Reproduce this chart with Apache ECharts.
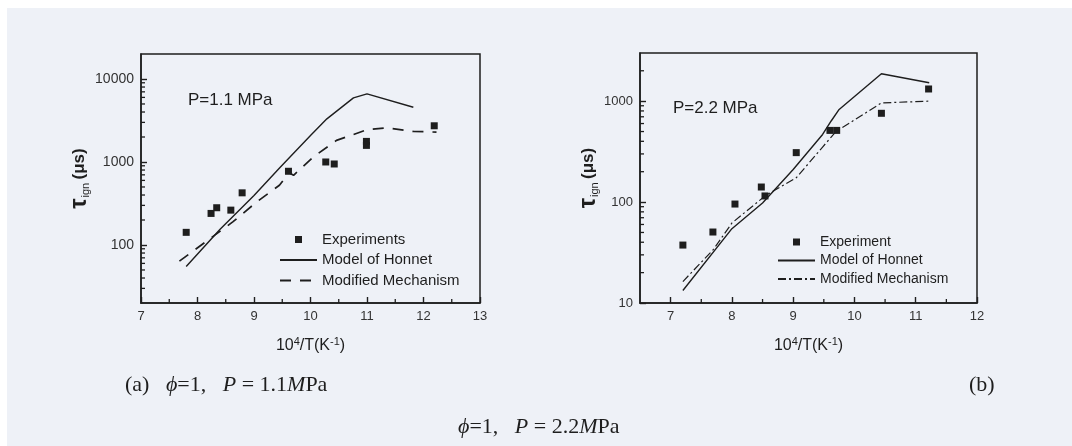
<!DOCTYPE html>
<html lang="en">
<head>
  <meta charset="UTF-8">
  <title>Ignition delay time vs 10^4/T</title>
  <script src="https://cdn.jsdelivr.net/npm/echarts@6/dist/echarts.min.js"></script>
  <style>
    html, body { margin: 0; padding: 0; background: #ffffff; }
    #paper { position: absolute; left: 7px; top: 8px; right: 0; bottom: 0; background: #eef1f7; }
    #main { position: absolute; left: 0; top: 0; width: 1072px; height: 446px; }
  </style>
</head>
<body>
  <div id="paper"></div>
  <div id="main"></div>

  <script>
    // (a) P = 1.1 MPa
    const expA_x = [7.80, 8.24, 8.34, 8.59, 8.79, 9.61, 10.27, 10.42, 10.99, 10.99, 12.19];
    const expA_y = [142, 240, 281, 263, 425, 773, 1000, 946, 1770, 1585, 2730];
    const honA_x = [7.80, 8.40, 9.00, 9.46, 10.00, 10.29, 10.76, 11.00, 11.82];
    const honA_y = [55, 155, 394, 860, 2090, 3310, 5920, 6610, 4570];
    const modA_x = [7.68, 8.27, 8.63, 9.05, 9.45, 9.62, 9.70, 10.05, 10.46, 11.00, 11.35, 11.82, 12.23];
    const modA_y = [64, 126, 191, 331, 525, 740, 690, 1150, 1820, 2445, 2580, 2335, 2290];

    // (b) P = 2.2 MPa
    const expB_x = [7.20, 7.69, 8.05, 8.48, 8.54, 9.05, 9.60, 9.71, 10.44, 11.21];
    const expB_y = [37.5, 50.5, 95.6, 141, 115, 309, 513, 513, 758, 1320];
    const honB_x = [7.20, 8.00, 8.50, 9.00, 9.48, 9.62, 9.75, 10.44, 11.22];
    const honB_y = [13.3, 54.5, 98, 210, 468, 636, 828, 1870, 1520];
    const modB_x = [7.20, 7.70, 8.00, 8.54, 9.05, 9.48, 9.70, 10.44, 11.22];
    const modB_y = [16.3, 34, 62, 115, 174, 351, 500, 960, 1000];

    // minor axis ticks
    const xMinorA = [7.5, 8.5, 9.5, 10.5, 11.5, 12.5];
    const xMinorB = [7.5, 8.5, 9.5, 10.5, 11.5];
    const yMinorA = [30, 40, 50, 60, 70, 80, 90, 200, 300, 400, 500, 600, 700, 800, 900,
                     2000, 3000, 4000, 5000, 6000, 7000, 8000, 9000];
    const yMinorB = [20, 30, 40, 50, 60, 70, 80, 90, 200, 300, 400, 500, 600, 700, 800, 900, 2000];

    const ink = '#1e1e1e';
    const sans = '"Liberation Sans", Arial, sans-serif';
    const serif = '"Liberation Serif", "Times New Roman", serif';

    function zip(xs, ys) {
      return xs.map((x, i) => [x, ys[i]]);
    }

    // short inside ticks drawn through the axes' own scales
    function tickSeries(idx, data, dir, len) {
      return {
        type: 'custom',
        xAxisIndex: idx,
        yAxisIndex: idx,
        silent: true,
        z: 10,
        data: data,
        renderItem: function (params, api) {
          const p = api.coord([api.value(0), api.value(1)]);
          const x2 = dir === 'y' ? p[0] + len : p[0];
          const y2 = dir === 'x' ? p[1] - len : p[1];
          return {
            type: 'line',
            shape: { x1: p[0], y1: p[1], x2: x2, y2: y2 },
            style: { stroke: ink, lineWidth: 1.3 }
          };
        }
      };
    }

    const yName = '{t|τ}{s|ign} {u|(μs)}';
    const yNameRich = {
      t: { fontSize: 23, fontWeight: 'bold', fontFamily: sans, color: ink, verticalAlign: 'middle' },
      s: { fontSize: 11, fontFamily: sans, color: ink, verticalAlign: 'bottom', padding: [0, 0, 0, 1] },
      u: { fontSize: 17, fontWeight: 'bold', fontFamily: sans, color: ink, verticalAlign: 'middle' }
    };
    const xName = '10{p|4}/T(K{p|-1})';
    const xNameStyle = {
      fontSize: 16, fontFamily: sans, color: ink, lineHeight: 20,
      rich: { p: { fontSize: 11, fontFamily: sans, color: ink, verticalAlign: 'top', lineHeight: 20 } }
    };
    const capRich = {
      i: { fontSize: 22, fontStyle: 'italic', fontFamily: serif, color: ink }
    };
    const lineItem = { itemStyle: { opacity: 0 } };

    function xAxisOpt(idx, min, max, interval) {
      const o = {
        type: 'value',
        gridIndex: idx,
        min: min,
        max: max,
        name: xName,
        nameLocation: 'middle',
        nameGap: 33,
        nameTextStyle: xNameStyle,
        axisLine: { show: true, lineStyle: { color: ink, width: 1.5 } },
        axisTick: { show: true, inside: true, length: 6, lineStyle: { color: ink, width: 1.4 } },
        axisLabel: { color: '#333', fontSize: 13, fontFamily: sans, margin: 7, showMinLabel: idx === 0 },
        splitLine: { show: false }
      };
      if (interval) o.interval = interval;
      return o;
    }

    function yAxisOpt(idx, min, max, gap, labelSize) {
      return {
        type: 'log',
        logBase: 10,
        gridIndex: idx,
        min: min,
        max: max,
        name: yName,
        nameLocation: 'middle',
        nameRotate: 90,
        nameGap: gap,
        nameTextStyle: { rich: yNameRich },
        axisLine: { show: true, lineStyle: { color: ink, width: 1.5 } },
        axisTick: { show: true, inside: true, length: 6, lineStyle: { color: ink, width: 1.4 } },
        axisLabel: {
          color: '#333', fontSize: labelSize, fontFamily: sans, margin: 7,
          showMinLabel: idx === 1, showMaxLabel: false,
          formatter: v => String(Math.round(v))
        },
        splitLine: { show: false }
      };
    }

    const chart = echarts.init(document.getElementById('main'), null, { renderer: 'canvas' });

    const option = {
      backgroundColor: 'transparent',
      animation: false,
      textStyle: { fontFamily: sans },
      title: [
        { text: 'P=1.1 MPa', left: 188, top: 92, padding: 0,
          textStyle: { fontSize: 17, fontWeight: 'normal', color: ink, fontFamily: sans } },
        { text: 'P=2.2 MPa', left: 673, top: 100, padding: 0,
          textStyle: { fontSize: 17, fontWeight: 'normal', color: ink, fontFamily: sans } },
        { text: '(a)   {i|ϕ}=1,   {i|P} = 1.1{i|M}Pa', left: 125, top: 374, padding: 0,
          textStyle: { fontSize: 22, fontWeight: 'normal', color: ink, fontFamily: serif, rich: capRich } },
        { text: '(b)', left: 969, top: 374, padding: 0,
          textStyle: { fontSize: 22, fontWeight: 'normal', color: ink, fontFamily: serif } },
        { text: '{i|ϕ}=1,   {i|P} = 2.2{i|M}Pa', left: 458, top: 416, padding: 0,
          textStyle: { fontSize: 22, fontWeight: 'normal', color: ink, fontFamily: serif, rich: capRich } }
      ],
      legend: [
        {
          orient: 'vertical', left: 279, top: 232, padding: 0,
          itemWidth: 37, itemHeight: 7, itemGap: 5.5,
          textStyle: { fontSize: 15, color: ink, fontFamily: sans, lineHeight: 15 },
          data: [
            { name: 'Experiments', icon: 'path://M0,0H10V10H0Z' },
            Object.assign({ name: 'Model of Honnet' }, lineItem),
            Object.assign({ name: 'Modified Mechanism' }, lineItem)
          ],
          selectedMode: false
        },
        {
          orient: 'vertical', left: 777, top: 235, padding: 0,
          itemWidth: 37, itemHeight: 7, itemGap: 4.5,
          textStyle: { fontSize: 14, color: ink, fontFamily: sans, lineHeight: 14 },
          formatter: n => n.replace(' (b)', ''),
          data: [
            { name: 'Experiment', icon: 'path://M0,0H10V10H0Z' },
            Object.assign({ name: 'Model of Honnet (b)' }, lineItem),
            Object.assign({ name: 'Modified Mechanism (b)' }, lineItem)
          ],
          selectedMode: false
        }
      ],
      grid: [
        { left: 141, top: 54, width: 339, height: 249, show: true,
          borderColor: ink, borderWidth: 1.5, backgroundColor: 'transparent' },
        { left: 640, top: 53, width: 337, height: 250, show: true,
          borderColor: ink, borderWidth: 1.5, backgroundColor: 'transparent' }
      ],
      xAxis: [
        xAxisOpt(0, 7, 13, 1),
        xAxisOpt(1, 6.5, 12, null)
      ],
      yAxis: [
        yAxisOpt(0, 20, 20000, 36, 14),
        yAxisOpt(1, 10, 3000, 32, 13)
      ],
      series: [
        {
          name: 'Experiments', type: 'scatter', xAxisIndex: 0, yAxisIndex: 0,
          symbol: 'rect', symbolSize: 7, itemStyle: { color: ink, opacity: 1 },
          data: zip(expA_x, expA_y), z: 4
        },
        {
          name: 'Model of Honnet', type: 'line', xAxisIndex: 0, yAxisIndex: 0,
          symbol: 'none', lineStyle: { color: ink, width: 1.4 }, itemStyle: { color: ink },
          data: zip(honA_x, honA_y)
        },
        {
          name: 'Modified Mechanism', type: 'line', xAxisIndex: 0, yAxisIndex: 0,
          symbol: 'none', lineStyle: { color: ink, width: 1.7, type: [11, 9] }, itemStyle: { color: ink },
          data: zip(modA_x, modA_y)
        },
        {
          name: 'Experiment', type: 'scatter', xAxisIndex: 1, yAxisIndex: 1,
          symbol: 'rect', symbolSize: 7, itemStyle: { color: ink, opacity: 1 },
          data: zip(expB_x, expB_y), z: 4
        },
        {
          name: 'Model of Honnet (b)', type: 'line', xAxisIndex: 1, yAxisIndex: 1,
          symbol: 'none', lineStyle: { color: ink, width: 1.4 }, itemStyle: { color: ink },
          data: zip(honB_x, honB_y)
        },
        {
          name: 'Modified Mechanism (b)', type: 'line', xAxisIndex: 1, yAxisIndex: 1,
          symbol: 'none', lineStyle: { color: ink, width: 1.2, type: [8, 3, 2, 3] }, itemStyle: { color: ink },
          data: zip(modB_x, modB_y)
        },
        tickSeries(0, xMinorA.map(v => [v, 20]), 'x', 4),
        tickSeries(1, xMinorB.map(v => [v, 10]), 'x', 4),
        tickSeries(0, yMinorA.map(v => [7, v]), 'y', 4),
        tickSeries(1, yMinorB.map(v => [6.5, v]), 'y', 4)
      ]
    };

    chart.setOption(option);

    window.addEventListener('resize', function () {
      chart.resize();
    });
  </script>
</body>
</html>
